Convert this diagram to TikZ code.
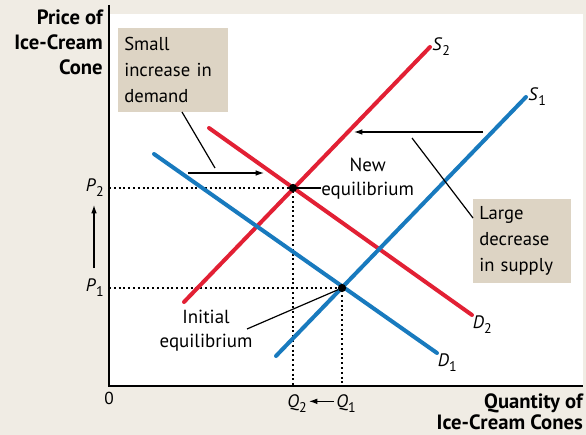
\documentclass[tikz,border=0pt]{standalone}
\usepackage{fontspec}
\setmainfont{PT Sans}
\usepackage{xcolor}
\usepackage{tikz}
\usetikzlibrary{arrows.meta,positioning}
\definecolor{ecored}{RGB}{226,32,52}
\definecolor{ecoblue}{RGB}{24,122,190}
\definecolor{ecobeige}{RGB}{240,236,228}
\definecolor{ecobox}{RGB}{221,212,196}
\newcommand{\curvename}[2]{\textit{#1}\raisebox{-0.55ex}{\fontsize{10.5}{10.5}\selectfont #2}}
\tikzset{
  curve/.style={line width=3pt, line cap=round},
  axisline/.style={line width=1.4pt},
  guide/.style={line width=1.6pt, dash pattern=on 1.5pt off 2.1pt},
  shiftarrow/.style={-{Latex[length=2.2mm, width=1.5mm]}, line width=0.9pt},
  leader/.style={line width=0.9pt},
  callout/.style={fill=ecobox, align=left, inner xsep=4.5pt, inner ysep=3pt,
    font=\fontsize{14}{19.5}\selectfont},
  axislabel/.style={align=right, inner sep=0pt, font=\fontsize{15.5}{18.8}\selectfont\bfseries},
  note/.style={align=center, inner sep=0pt, font=\fontsize{14.2}{18}\selectfont},
  curvelabel/.style={inner sep=1.5pt, font=\fontsize{13.5}{13.5}\selectfont},
  eqdot/.style={circle, fill=black, inner sep=0pt, minimum size=6.2pt},
}

\begin{document}
\begin{tikzpicture}[x=0.75pt, y=-0.75pt]
  \useasboundingbox (0,0) rectangle (586,435);
  \fill[ecobeige] (0,0) rectangle (586,435);
  \fill[white] (109,14) rectangle (583,386);

  % axes
  \coordinate (origin) at (109,386);
  \coordinate (ytop) at (109,5);
  \coordinate (xend) at (583,386);
  \draw[axisline] (ytop) -- (origin) -- (xend);
  \node[font=\fontsize{13}{13}\selectfont] (zero) at (109,398) {0};
  \node[axislabel, anchor=east] (ylabel) at (103,42)
    {Price of\\Ice-Cream\\Cone};
  \node[axislabel, anchor=east, font=\fontsize{15.5}{16}\selectfont\bfseries] (xlabel) at (583,412)
    {Quantity of\\Ice-Cream Cones};

  % equilibria
  \coordinate (eqold) at (342,288);
  \coordinate (eqnew) at (293,188);
  \coordinate (pold) at (109,288);
  \coordinate (pnew) at (109,188);
  \coordinate (qold) at (342,386);
  \coordinate (qnew) at (293,386);

  \draw[guide] (pnew) -- (eqnew) -- (qnew);
  \draw[guide] (pold) -- (eqold) -- (qold);

  % demand and supply curves
  \coordinate (dOneA) at (154,154);
  \coordinate (dOneB) at (437,353);
  \coordinate (dTwoA) at (209,128);
  \coordinate (dTwoB) at (472,315);
  \coordinate (sOneA) at (276,356);
  \coordinate (sOneB) at (526,97);
  \coordinate (sTwoA) at (184,302);
  \coordinate (sTwoB) at (430,47);

  \draw[curve, ecored] (sTwoA) -- (sTwoB);
  \draw[curve, ecored] (dTwoA) -- (dTwoB);
  \draw[curve, ecoblue] (dOneA) -- (dOneB);
  \draw[curve, ecoblue] (sOneA) -- (sOneB);

  \node[curvelabel, anchor=west] (sTwoLbl) at (sTwoB) {\curvename{S}{2}};
  \node[curvelabel, anchor=west] (sOneLbl) at (sOneB) {\curvename{S}{1}};
  \node[curvelabel, anchor=north west, inner sep=0.5pt] (dTwoLbl) at (dTwoB) {\curvename{D}{2}};
  \node[curvelabel, anchor=north west, inner sep=0.5pt] (dOneLbl) at (dOneB) {\curvename{D}{1}};

  \node[eqdot] (dotnew) at (eqnew) {};
  \node[eqdot] (dotold) at (eqold) {};

  % price and quantity labels
  \node[curvelabel, anchor=east] (pTwoLbl) at (106,188) {\curvename{P}{2}};
  \node[curvelabel, anchor=east] (pOneLbl) at (106,288) {\curvename{P}{1}};
  \coordinate (priseA) at (94,268);
  \coordinate (priseB) at (94,205);
  \draw[shiftarrow] (priseA) -- (priseB);
  \node[curvelabel] (qTwoLbl) at (297,404) {\curvename{Q}{2}};
  \node[curvelabel] (qOneLbl) at (346,404) {\curvename{Q}{1}};
  \draw[shiftarrow] ([yshift=2pt]qOneLbl.west) -- ([yshift=2pt]qTwoLbl.east);

  % shifts
  \coordinate (dshiftA) at (188,173);
  \coordinate (dshiftB) at (264,173);
  \draw[shiftarrow] (dshiftA) -- (dshiftB);
  \coordinate (sshiftA) at (483,132);
  \coordinate (sshiftB) at (354,132);
  \draw[shiftarrow] (sshiftA) -- (sshiftB);

  % callouts
  \node[callout, anchor=north west, text width=73.5pt, minimum height=63pt] (demandBox) at (118,28)
    {Small\\increase in\\demand};
  \node[callout, anchor=north west, text width=64.5pt, minimum height=63pt] (supplyBox) at (473,199)
    {Large\\decrease\\in supply};
  \coordinate (dleadEnd) at (215,168);
  \draw[leader] (182,112) -- (dleadEnd);
  \coordinate (sleadStart) at (412,138);
  \draw[leader] (sleadStart) -- (supplyBox.west |- 0,218);

  \node[note, anchor=west] (newLbl) at (321,179) {New\\equilibrium};
  \draw[leader] (dotnew) -- (dotnew -| newLbl.west);
  \node[note] (initLbl) at (206,331) {Initial\\equilibrium};
  \coordinate (ileadStart) at (247,329);
  \draw[leader] (ileadStart) -- (dotold);
\end{tikzpicture}
\end{document}
